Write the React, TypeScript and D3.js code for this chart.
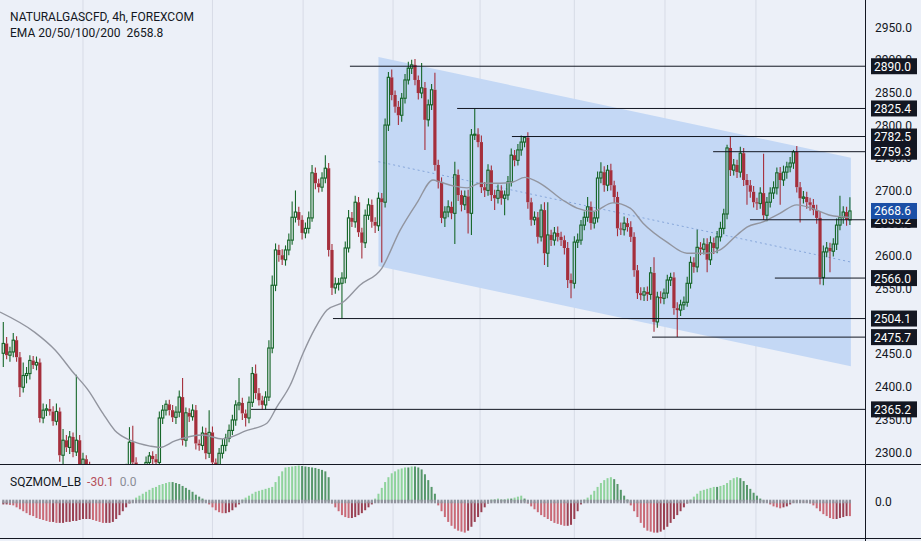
import * as d3 from "d3";

const TITLE = "NATURALGASCFD, 4h, FOREXCOM";
const EMA_TEXT = "EMA 20/50/100/200";
const EMA_LAST = "2658.8";

// 4h candles, open = previous close
const firstOpen = 2451;
const closes = [
  2466, 2448, 2453, 2471, 2445, 2399, 2417, 2420, 2440, 2433,
  2437, 2352, 2364, 2366, 2362, 2347, 2362, 2295, 2318, 2307,
  2323, 2300, 2318, 2277, 2289, 2278, 2264, 2250, 2240, 2255,
  2245, 2232, 2240, 2250, 2238, 2245, 2262, 2270, 2315, 2284,
  2272, 2265, 2272, 2284, 2294, 2289, 2284, 2352, 2364, 2373,
  2364, 2353, 2361, 2384, 2318, 2360, 2354, 2364, 2313, 2310,
  2329, 2298, 2330, 2284, 2280, 2298, 2310, 2321, 2333, 2349,
  2372, 2375, 2359, 2352, 2376, 2420, 2390, 2379, 2372, 2384,
  2459, 2555, 2609, 2601, 2594, 2609, 2624, 2659, 2667, 2655,
  2635, 2642, 2658, 2727, 2711, 2705, 2719, 2734, 2609, 2551,
  2557, 2558, 2566, 2612, 2658, 2652, 2682, 2636, 2620, 2662,
  2678, 2652, 2646, 2688, 2682, 2800, 2873, 2846, 2828, 2815,
  2841, 2869, 2887, 2892, 2869, 2849, 2857, 2808, 2831, 2854,
  2739, 2713, 2658, 2667, 2675, 2665, 2724, 2693, 2678, 2691,
  2665, 2785, 2786, 2774, 2705, 2700, 2731, 2693, 2688, 2700,
  2688, 2693, 2713, 2754, 2746, 2762, 2774, 2781, 2682, 2655,
  2659, 2629, 2670, 2604, 2632, 2624, 2635, 2629, 2624, 2612,
  2563, 2558, 2621, 2624, 2647, 2659, 2675, 2650, 2658, 2719,
  2728, 2708, 2731, 2708, 2690, 2642, 2640, 2650, 2644, 2629,
  2578, 2543, 2540, 2545, 2541, 2574, 2499, 2537, 2535, 2543,
  2563, 2567, 2520, 2517, 2525, 2529, 2558, 2590, 2583, 2613,
  2610, 2618, 2594, 2620, 2612, 2629, 2642, 2664, 2765, 2731,
  2739, 2728, 2757, 2716, 2708, 2698, 2682, 2680, 2696, 2662,
  2682, 2696, 2704, 2727, 2716, 2728, 2736, 2742, 2759, 2705,
  2688, 2690, 2682, 2678, 2670, 2658, 2567, 2606, 2612, 2607,
  2618, 2647, 2659, 2667, 2655, 2668.6,
];
const wickUp = [
  33, 10, 8, 11, 6, 8, 20, 10, 8, 7,
  9, 6, 10, 7, 15, 8, 12, 6, 17, 8,
  9, 7, 100, 8, 10, 6, 7, 9, 6, 10,
  8, 7, 11, 9, 6, 8, 10, 12, 23, 25,
  8, 6, 8, 9, 6, 7, 8, 10, 8, 6,
  7, 8, 9, 10, 29, 8, 7, 9, 8, 6,
  10, 8, 34, 9, 6, 8, 10, 7, 9, 8,
  7, 38, 8, 6, 9, 10, 14, 8, 7, 9,
  12, 15, 10, 8, 9, 7, 10, 24, 33, 8,
  7, 9, 10, 12, 8, 7, 9, 20, 8, 9,
  10, 8, 9, 10, 12, 9, 10, 8, 7, 9,
  10, 8, 7, 9, 8, 10, 8, 12, 7, 9,
  8, 9, 10, 8, 9, 7, 38, 9, 8, 9,
  26, 8, 7, 9, 10, 8, 20, 8, 7, 9,
  10, 9, 39.4, 9, 10, 8, 9, 7, 8, 9,
  8, 7, 9, 10, 8, 9, 10, 1.5, 8, 7,
  9, 8, 9, 12, 50, 8, 9, 10, 8, 7,
  9, 10, 9, 10, 8, 9, 15, 8, 9, 10,
  15, 9, 8, 10, 7, 8, 9, 10, 8, 9,
  7, 8, 9, 7, 8, 9, 24, 8, 9, 7,
  8, 7, 8, 9, 8, 9, 10, 9, 8, 27,
  8, 9, 9, 10, 8, 9, 10, 8, 5, 17,
  9, 8, 10, 8, 9, 8, 9, 7, 9, 60,
  8, 9, 10, 8, 9, 10, 8, 9, 3, 9,
  8, 9, 8, 7, 9, 8, 9, 10, 9, 8,
  9, 10, 33, 9, 8, 21,
];
const wickDn = [
  21, 6, 10, 8, 7, 15, 8, 12, 9, 6,
  8, 7, 8, 9, 6, 7, 6, 10, 24, 7,
  10, 8, 6, 10, 9, 8, 10, 8, 11, 7,
  9, 10, 6, 8, 9, 7, 8, 6, 9, 8,
  9, 10, 7, 8, 8, 9, 7, 6, 9, 8,
  8, 7, 10, 8, 8, 10, 8, 6, 9, 8,
  7, 9, 7, 8, 9, 7, 8, 9, 6, 7,
  9, 8, 10, 13, 8, 7, 9, 8, 7, 7,
  6, 8, 9, 10, 8, 9, 8, 7, 8, 9,
  10, 8, 8, 6, 9, 8, 7, 8, 10, 11,
  9, 10, 54, 8, 7, 8, 9, 7, 24, 8,
  7, 9, 11, 8, 92, 8, 9, 8, 9, 15,
  10, 8, 7, 9, 8, 10, 8, 46, 10, 8,
  9, 10, 8, 14, 8, 9, 47, 9, 10, 8,
  31, 33, 8, 8, 9, 10, 8, 9, 18, 8,
  10, 26, 8, 7, 9, 8, 9, 8, 10, 9,
  8, 10, 7, 18, 21, 9, 8, 7, 9, 10,
  12, 23, 8, 9, 7, 8, 7, 10, 8, 7,
  8, 10, 9, 8, 9, 12, 8, 9, 7, 8,
  10, 9, 8, 9, 10, 8, 15, 9, 8, 9,
  8, 9, 10, 41.3, 9, 8, 7, 8, 9, 8,
  9, 8, 19, 8, 9, 8, 7, 9, 8, 9,
  8, 9, 8, 9, 30, 9, 8, 10, 8, 7,
  9, 8, 9, 10, 38, 9, 10, 8, 9, 8,
  37, 8, 10, 9, 8, 9, 11, 12, 8, 32,
  8, 9, 8, 10, 9, 8,
];

// squeeze momentum histogram, one value per candle
const momentum = [
  -6, -6, -7, -8, -12, -16, -20, -24, -28, -30,
  -34, -36, -38, -40, -42, -42, -44, -44, -44, -42,
  -42, -40, -40, -38, -36, -36, -36, -38, -40, -42,
  -44, -44, -44, -42, -36, -28, -20, -12, -4, 2,
  8, 12, 16, 20, 24, 28, 30, 34, 36, 38,
  40, 40, 38, 36, 32, 28, 24, 20, 14, 10,
  6, 2, -6, -12, -18, -22, -24, -24, -22, -18,
  -12, -6, 4, 8, 12, 16, 20, 22, 24, 26,
  28, 30, 40, 52, 62, 70, 71, 72, 73, 74,
  73, 72, 71, 70, 69, 67, 65, 62, 50, -4,
  -12, -20, -28, -32, -34, -34, -32, -28, -24, -18,
  -12, -6, 6, 16, 28, 40, 50, 58, 62, 66,
  68, 70, 70, 72, 72, 70, 66, 56, 44, 30,
  16, -8, -20, -32, -42, -50, -56, -60, -62, -64,
  -60, -52, -42, -32, -22, -12, -4, 4, 4, 6,
  4, 4, 6, 6, 8, 10, 12, 6, -4, -10,
  -16, -22, -28, -32, -36, -40, -44, -46, -48, -50,
  -50, -48, -36, -20, -6, 4, 8, 14, 22, 30,
  38, 44, 48, 50, 46, 36, 24, 12, 4, -8,
  -20, -32, -44, -54, -60, -62, -64, -64, -62, -58,
  -52, -44, -36, -28, -20, -12, -4, 4, 10, 16,
  22, 24, 26, 28, 30, 30, 32, 34, 38, 44,
  48, 50, 48, 42, 34, 26, 18, 12, 6, 2,
  -2, -6, -10, -12, -14, -12, -10, -6, -2, 2,
  2, -2, -2, -4, -8, -14, -20, -26, -30, -34,
  -36, -36, -34, -32, -30, -30.1,
];

// EMA readings (bar index, value)
const emaIdx = [-1, 9.5, 15.6, 21, 25.5, 30, 33.6, 38.2, 44.2, 47.2, 51.7, 60.1, 65.9, 73.4, 79.4, 82.4, 86.4, 90.3, 93.9, 97.5, 102.3, 107.4, 114, 119.5, 124.6, 129.4, 131.5, 135.5, 139.7, 143.6, 149.6, 153.5, 157.1, 161.7, 168.6, 172.8, 177.6, 183.6, 188.8, 192.7, 199.9, 205.9, 211.9, 215.9, 221, 224, 228.8, 233.9, 239, 243.9, 249, 255];
const emaVal = [2514, 2483, 2456, 2422, 2395, 2359, 2333, 2318, 2309, 2307, 2317, 2326, 2320, 2333, 2344, 2369, 2402, 2451, 2489, 2517, 2529, 2555, 2581, 2639, 2681, 2716, 2713, 2707, 2704, 2711, 2711, 2713, 2720, 2711, 2685, 2673, 2668, 2681, 2673, 2650, 2621, 2604, 2604, 2609, 2632, 2644, 2652, 2665, 2678, 2672, 2662, 2658.8];

// horizontal levels and the bar they start from
const levels = [2890.0, 2825.4, 2782.5, 2759.3, 2655.2, 2566.0, 2504.1, 2475.7, 2365.2];
const levelFrom = [104.4, 136.7, 153.2, 213.8, 224.9, 232.4, 99.3, 195.4, 74.6];
const lastPrice = 2668.6;

// descending channel
const channelIdx = [113, 255.3];
const channelTop = [2904, 2750];
const channelBot = [2584, 2431];

const priceTicks = [2950, 2900, 2850, 2800, 2750, 2700, 2650, 2600, 2550, 2500, 2450, 2400, 2350, 2300];
const gridIdx = [24, 63, 90.3, 117.4, 143.6, 172, 199.3, 226.7];

const W = 921;
const H = 541;
const PLOT_R = 865;
const MAIN_B = 464;
const SUB_B = 538;
const FONT = "Roboto, 'DejaVu Sans', sans-serif";
const BG = "#ecf0f8";
const UP = "#17672a";
const DOWN = "#a52f3c";

export default function App() {
  const x = d3.scaleLinear().domain([0, 255]).range([3.3, 849.9]);
  const y = d3.scaleLinear().domain([2300, 2950]).range([452, 27]);
  const ym = d3.scaleLinear().domain([0, 72]).range([501.5, 466.5]);

  const candles = closes.map((c, i) => {
    const o = i === 0 ? firstOpen : closes[i - 1];
    return { i, o, c, h: Math.max(o, c) + wickUp[i], l: Math.min(o, c) - wickDn[i] };
  });

  const ema = d3
    .line<number>()
    .x((d) => x(d))
    .y((_, k) => y(emaVal[k]))
    .curve(d3.curveMonotoneX)(emaIdx);

  const chan = `M${x(channelIdx[0])},${y(channelTop[0])}L${x(channelIdx[1])},${y(channelTop[1])}L${x(channelIdx[1])},${y(channelBot[1])}L${x(channelIdx[0])},${y(channelBot[0])}Z`;
  const midA = (channelTop[0] + channelBot[0]) / 2;
  const midB = (channelTop[1] + channelBot[1]) / 2;

  const momColor = (v: number, k: number) => {
    const p = k > 0 ? momentum[k - 1] : v;
    if (v >= 0) return v > p ? "#8fd39c" : "#56976a";
    return v < p ? "#c96a77" : "#9a4052";
  };

  return (
    <svg width={W} height={H} style={{ position: "fixed", left: 0, top: 0, background: BG }} fontFamily={FONT}>
      <defs>
        <clipPath id="mainClip">
          <rect x={0} y={0} width={PLOT_R} height={MAIN_B} />
        </clipPath>
        <clipPath id="subClip">
          <rect x={0} y={MAIN_B + 1} width={PLOT_R} height={SUB_B - MAIN_B - 1} />
        </clipPath>
      </defs>
      <rect width={W} height={H} fill={BG} />

      {/* time grid */}
      {gridIdx.map((g) => (
        <line key={g} x1={x(g)} x2={x(g)} y1={0} y2={SUB_B} stroke="#d7dbe6" strokeWidth={1} />
      ))}

      <g clipPath="url(#mainClip)">
        <path d={chan} fill="#c4d8f5" />
        <line x1={x(channelIdx[0])} y1={y(midA)} x2={x(channelIdx[1])} y2={y(midB)} stroke="#86a6da" strokeWidth={1} strokeDasharray="2,3" />

        {candles.map((d) => {
          const cx = x(d.i);
          const up = d.c >= d.o;
          const top = y(Math.max(d.o, d.c));
          const bot = y(Math.min(d.o, d.c));
          const col = up ? UP : DOWN;
          const bh = Math.max(1, bot - top);
          return (
            <g key={d.i}>
              <line x1={cx} x2={cx} y1={y(d.h)} y2={top} stroke={col} strokeWidth={1.1} />
              <line x1={cx} x2={cx} y1={top + bh} y2={y(d.l)} stroke={col} strokeWidth={1.1} />
              {up ? (
                <rect x={cx - 1.15} y={top} width={2.3} height={bh} fill="none" stroke={col} strokeWidth={1.15} />
              ) : (
                <rect x={cx - 1.6} y={top} width={3.2} height={bh} fill={col} />
              )}
            </g>
          );
        })}

        <path d={ema ?? ""} fill="none" stroke="#92959f" strokeWidth={1.4} />

        {levels.map((v, k) => (
          <line key={v} x1={x(levelFrom[k])} x2={PLOT_R} y1={y(v)} y2={y(v)} stroke="#131722" strokeWidth={1} />
        ))}
      </g>

      {/* squeeze momentum pane */}
      <g clipPath="url(#subClip)">
        {momentum.map((v, k) => {
          const y0 = ym(0);
          const y1 = ym(v);
          return (
            <rect key={k} x={x(k) - 1} y={Math.min(y0, y1)} width={2} height={Math.abs(y1 - y0)} fill={momColor(v, k)} />
          );
        })}
        {momentum.map((_, k) => (
          <rect key={"s" + k} x={x(k) - 1.1} y={ym(0) - 1.8} width={2.2} height={3.6} fill="#8f929c" />
        ))}
      </g>

      {/* pane frames */}
      <line x1={0} x2={W} y1={MAIN_B + 0.5} y2={MAIN_B + 0.5} stroke="#131722" strokeWidth={1.2} />
      <line x1={0} x2={W} y1={SUB_B + 0.5} y2={SUB_B + 0.5} stroke="#131722" strokeWidth={1} />
      <line x1={PLOT_R + 0.5} x2={PLOT_R + 0.5} y1={0} y2={H} stroke="#131722" strokeWidth={1} />

      {/* price axis */}
      {priceTicks.map((t) => (
        <text key={t} x={875} y={y(t) + 4.5} fontSize={12} fill="#131722">
          {t.toFixed(1)}
        </text>
      ))}
      <text x={875} y={ym(0) + 4.5} fontSize={12} fill="#131722">0.0</text>

      {levels.map((v) => (
        <g key={"b" + v}>
          <rect x={871} y={y(v) - 8} width={46} height={16} fill="#131722" />
          <text x={874} y={y(v) + 4.5} fontSize={12} fill="#ffffff">{v.toFixed(1)}</text>
        </g>
      ))}
      <rect x={871} y={y(lastPrice) - 8} width={46} height={16} fill="#1b4fa6" />
      <text x={874} y={y(lastPrice) + 4.5} fontSize={12} fill="#ffffff">{lastPrice.toFixed(1)}</text>

      {/* legends */}
      <text x={10} y={20.5} fontSize={12} fill="#131722">{TITLE}</text>
      <text x={10} y={37} fontSize={12} fill="#131722" style={{ whiteSpace: "pre" }}>
        {EMA_TEXT + "  " + EMA_LAST}
      </text>
      <text x={10} y={486} fontSize={12} fill="#131722" style={{ whiteSpace: "pre" }}>
        <tspan>SQZMOM_LB  </tspan>
        <tspan fill="#b5505c">{momentum[momentum.length - 1].toFixed(1)}</tspan>
        <tspan fill="#8a8d96">{"  0.0"}</tspan>
      </text>
    </svg>
  );
}
